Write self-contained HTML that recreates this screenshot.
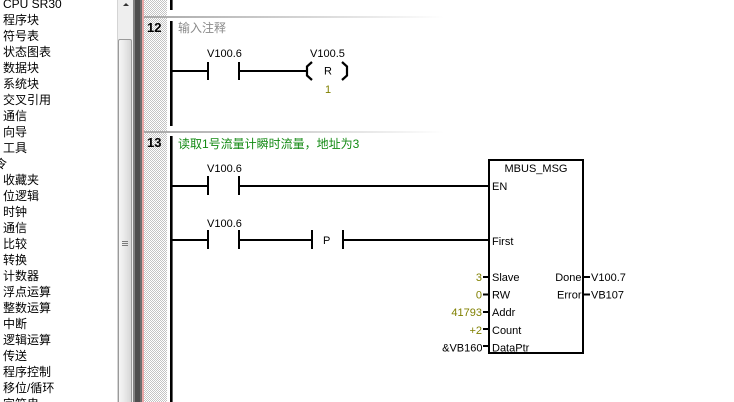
<!DOCTYPE html>
<html><head><meta charset="utf-8">
<style>
html,body{margin:0;padding:0;background:#fff;overflow:hidden;width:734px;height:402px;}
body{position:relative;}
#tree{position:absolute;left:0;top:0;width:117px;height:402px;overflow:hidden;background:#fff;}
#tree div{position:absolute;left:3px;height:16px;line-height:16px;font-size:12px;white-space:nowrap;color:#000;
font-family:"Liberation Sans","WenQuanYi Zen Hei","Noto Sans CJK SC",sans-serif;}
#sbwrap{position:absolute;left:117px;top:0;width:16px;height:402px;overflow:hidden;}
#sb{position:absolute;left:0;top:0;width:16px;height:402px;background:#eeeeee;border-left:1px solid #d4d4d4;box-sizing:border-box;}
#thumb{position:absolute;left:1px;top:39px;width:14px;height:370px;box-sizing:border-box;border:1px solid #9a9a9a;border-radius:2px;
background:linear-gradient(to right,#f6f6f6,#e8e8e8 50%,#d6d6d6);}
svg{position:absolute;left:0;top:0;}
</style></head><body>
<div id="tree">
<div style="top:-4.5px">CPU SR30</div>
<div style="top:11.5px">程序块</div>
<div style="top:27.5px">符号表</div>
<div style="top:43.5px">状态图表</div>
<div style="top:59.5px">数据块</div>
<div style="top:75.5px">系统块</div>
<div style="top:91.5px">交叉引用</div>
<div style="top:107.5px">通信</div>
<div style="top:123.5px">向导</div>
<div style="top:139.5px">工具</div>
<div style="top:155.5px;left:-5px">令</div>
<div style="top:171.5px">收藏夹</div>
<div style="top:187.5px">位逻辑</div>
<div style="top:203.5px">时钟</div>
<div style="top:219.5px">通信</div>
<div style="top:235.5px">比较</div>
<div style="top:251.5px">转换</div>
<div style="top:267.5px">计数器</div>
<div style="top:283.5px">浮点运算</div>
<div style="top:299.5px">整数运算</div>
<div style="top:315.5px">中断</div>
<div style="top:331.5px">逻辑运算</div>
<div style="top:347.5px">传送</div>
<div style="top:363.5px">程序控制</div>
<div style="top:379.5px">移位/循环</div>
<div style="top:395.5px">字符串</div>
</div>
<div id="sbwrap"><div id="sb"></div><div id="thumb"></div></div>
<svg width="734" height="402" viewBox="0 0 734 402" xmlns="http://www.w3.org/2000/svg">
<defs>
<pattern id="chk" x="0" y="0" width="2" height="2" patternUnits="userSpaceOnUse">
<rect width="2" height="2" fill="#ffffff"/>
<rect width="1" height="1" fill="#c4c4c4"/>
<rect x="1" y="1" width="1" height="1" fill="#c4c4c4"/>
</pattern>
<linearGradient id="sep" x1="0" x2="1" y1="0" y2="0">
<stop offset="0" stop-color="#a8a8a8"/>
<stop offset="0.55" stop-color="#d6d6d6"/>
<stop offset="1" stop-color="#ffffff"/>
</linearGradient>
</defs>
<!-- scrollbar arrow and grip -->
<path d="M123 6 L126 3 L129 6 Z" fill="#333"/>
<g stroke="#7a7a7a" stroke-width="1">
<line x1="122" y1="241.5" x2="128" y2="241.5"/>
<line x1="122" y1="243.5" x2="128" y2="243.5"/>
<line x1="122" y1="245.5" x2="128" y2="245.5"/>
</g>
<!-- splitter -->
<rect x="133" y="0" width="2" height="402" fill="#828282"/>
<rect x="135" y="0" width="5" height="402" fill="#4e4e4e"/>
<rect x="140" y="0" width="2" height="402" fill="#6e6e6e"/>
<rect x="142" y="0" width="2" height="402" fill="#e8a6a6"/>
<!-- checker column -->
<rect x="144" y="0" width="23" height="402" fill="url(#chk)"/>
<!-- separators -->
<rect x="144" y="16" width="300" height="2" fill="url(#sep)"/>
<rect x="144" y="131" width="300" height="2" fill="url(#sep)"/>
<!-- rails -->
<rect x="170" y="0" width="2.6" height="10" fill="#000"/>
<rect x="170" y="21" width="2.6" height="105" fill="#000"/>
<rect x="170" y="136" width="2.6" height="266" fill="#000"/>

<g font-family="Liberation Sans, sans-serif">
<text x="147" y="32" font-size="13" font-weight="bold" fill="#000">12</text>
<text x="147" y="147" font-size="13" font-weight="bold" fill="#000">13</text>
</g>
<g font-family="Liberation Sans, WenQuanYi Zen Hei, Noto Sans CJK SC, sans-serif" font-size="12">
<text x="178" y="32" fill="#8a8a8a">输入注释</text>
<text x="178" y="148" fill="#138a13">读取1号流量计瞬时流量，地址为3</text>
</g>

<!-- rung 12 -->
<g fill="#000">
<rect x="172" y="70" width="35" height="2"/>
<rect x="207" y="62" width="2" height="18"/>
<rect x="238" y="62" width="2" height="18"/>
<rect x="240" y="70" width="67" height="2"/>
</g>
<g stroke="#000" stroke-width="2.2" fill="none">
<path d="M312 62 L307 66.5 L307 75.5 L312 80"/>
<path d="M342 62 L347 66.5 L347 75.5 L342 80"/>
</g>
<g font-family="Liberation Sans, sans-serif" font-size="11" fill="#000">
<text x="207" y="57">V100.6</text>
<text x="310" y="57">V100.5</text>
<text x="328" y="74.5" text-anchor="middle">R</text>
<text x="328" y="93" text-anchor="middle" fill="#808000">1</text>
</g>

<!-- rung 13 -->
<g fill="#000">
<rect x="172" y="185" width="35" height="2"/>
<rect x="207" y="176" width="2" height="19"/>
<rect x="238" y="176" width="2" height="19"/>
<rect x="240" y="185" width="248" height="2"/>

<rect x="172" y="239" width="35" height="2"/>
<rect x="207" y="230" width="2" height="19"/>
<rect x="238" y="230" width="2" height="19"/>
<rect x="240" y="239" width="71" height="2"/>
<rect x="311" y="230" width="2" height="19"/>
<rect x="342" y="230" width="2" height="19"/>
<rect x="344" y="239" width="144" height="2"/>

<!-- box -->
<rect x="488" y="159" width="96" height="2"/>
<rect x="488" y="352" width="96" height="2"/>
<rect x="488" y="159" width="2" height="195"/>
<rect x="582" y="159" width="2" height="195"/>

<!-- ticks -->
<rect x="483" y="276" width="5" height="2"/>
<rect x="483" y="293.5" width="5" height="2"/>
<rect x="483" y="311" width="5" height="2"/>
<rect x="483" y="328" width="5" height="2"/>
<rect x="483" y="345" width="5" height="2"/>
<rect x="584" y="276" width="6" height="2"/>
<rect x="584" y="293.5" width="6" height="2"/>
</g>
<g font-family="Liberation Sans, sans-serif" font-size="11" fill="#000">
<text x="207" y="172">V100.6</text>
<text x="207" y="227">V100.6</text>
<text x="323" y="244">P</text>
<text x="536" y="172" text-anchor="middle">MBUS_MSG</text>
<text x="492" y="190">EN</text>
<text x="492" y="245">First</text>
<text x="492" y="281">Slave</text>
<text x="492" y="298.5">RW</text>
<text x="492" y="316">Addr</text>
<text x="492" y="334">Count</text>
<text x="492" y="351.5">DataPtr</text>
<text x="581.5" y="281" text-anchor="end">Done</text>
<text x="581.5" y="298.5" text-anchor="end">Error</text>
<text x="591" y="281">V100.7</text>
<text x="591" y="298.5">VB107</text>
<g text-anchor="end">
<text x="482" y="281" fill="#808000">3</text>
<text x="482" y="298.5" fill="#808000">0</text>
<text x="482" y="316" fill="#808000">41793</text>
<text x="482" y="334" fill="#808000">+2</text>
<text x="482.5" y="351.5">&amp;VB160</text>
</g>
</g>
</svg>
</body></html>
